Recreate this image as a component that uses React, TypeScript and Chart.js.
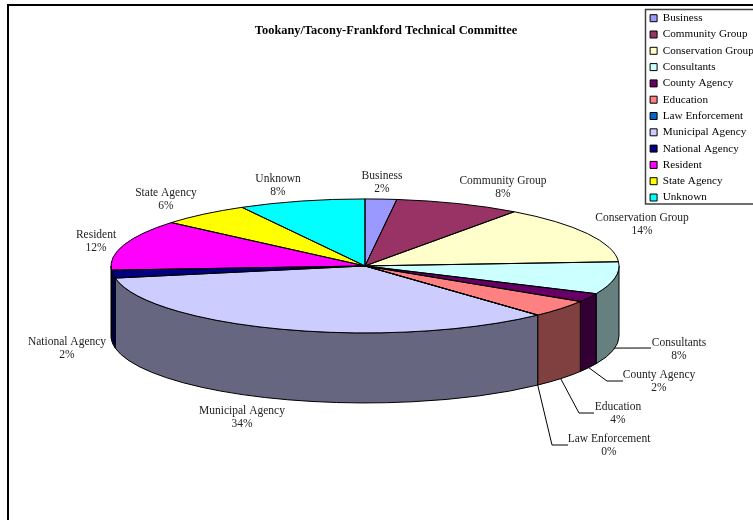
import React, { useEffect, useRef } from "react";
import { Chart, registerables } from "chart.js";

Chart.register(...registerables);

const titleText = "Tookany/Tacony-Frankford Technical Committee";
const categories = ["Business", "Community Group", "Conservation Group", "Consultants", "County Agency", "Education", "Law Enforcement", "Municipal Agency", "National Agency", "Resident", "State Agency", "Unknown"];
const shares = [2, 8, 14, 7.8, 2.1, 4.2, 0, 34, 1.9, 12.2, 5.75, 8.05];
const shareLabels = ["2%", "8%", "14%", "8%", "2%", "4%", "0%", "34%", "2%", "12%", "6%", "8%"];
const sliceColors = ["#9999FF", "#993366", "#FFFFCC", "#CCFFFF", "#660066", "#FF8080", "#0066CC", "#CCCCFF", "#000080", "#FF00FF", "#FFFF00", "#00FFFF"];
const wallColors = ["#4D4D80", "#4D1A33", "#808066", "#668080", "#330033", "#804040", "#003366", "#666680", "#000040", "#800080", "#808000", "#008080"];

const labelCenters: [number, number][] = [[382, 175], [503, 180], [642, 217], [679, 342], [659, 374], [618, 406], [609, 438], [242, 410], [67, 341], [96, 234], [166, 192], [278, 178]];
const leaderElbows: Record<number, [number, number][]> = {
  3: [[651, 348]],
  4: [[607, 381], [623, 381]],
  5: [[579, 413], [594, 413]],
  6: [[552, 445], [568, 445]],
};

const RADIUS = 254;
const TILT = 67 / 254;
const DEPTH = 70;
const SERIF = "'Liberation Serif', serif";

const tiltPlugin = {
  id: "tilt",
  afterLayout(chart: any) {
    const legend = chart.legend;
    legend.left = 645;
    legend.right = 753;
    legend.top = 7.5;
    legend.bottom = 260;
    legend.width = 108;
    legend.height = 252.5;
    const title = chart.titleBlock;
    title.left = 0;
    title.right = 772;
    title.width = 772;
  },
  beforeDraw(chart: any) {
    const { ctx } = chart;
    ctx.save();
    ctx.fillStyle = "#000";
    ctx.fillRect(7, 4, 746, 2);
    ctx.fillRect(7, 4, 2, 516);
    ctx.strokeStyle = "#404040";
    ctx.lineWidth = 1.5;
    ctx.fillStyle = "#fff";
    ctx.beginPath();
    ctx.rect(645.5, 9.5, 110, 194.5);
    ctx.fill();
    ctx.stroke();
    ctx.restore();
  },
  beforeDatasetsDraw(chart: any) {
    const { ctx } = chart;
    const arcs = chart.getDatasetMeta(0).data;
    const cx = arcs[0].x;
    const cy = arcs[0].y;
    const ry = RADIUS * TILT;
    ctx.save();
    ctx.lineWidth = 1;
    ctx.strokeStyle = "#000";
    arcs.forEach((arc: any, i: number) => {
      const a0 = Math.max(arc.startAngle, 0);
      const a1 = Math.min(arc.endAngle, Math.PI);
      if (a1 <= a0) return;
      ctx.beginPath();
      ctx.ellipse(cx, cy, RADIUS, ry, 0, a0, a1);
      ctx.lineTo(cx + RADIUS * Math.cos(a1), cy + ry * Math.sin(a1) + DEPTH);
      ctx.ellipse(cx, cy + DEPTH, RADIUS, ry, 0, a1, a0, true);
      ctx.closePath();
      ctx.fillStyle = wallColors[i];
      ctx.fill();
      ctx.stroke();
    });
    ctx.restore();
    ctx.save();
    ctx.translate(cx, cy);
    ctx.scale(1, TILT);
    ctx.translate(-cx, -cy);
  },
  afterDatasetsDraw(chart: any) {
    const { ctx } = chart;
    ctx.restore();
    const arcs = chart.getDatasetMeta(0).data;
    const cx = arcs[0].x;
    const cy = arcs[0].y;
    const ry = RADIUS * TILT;
    ctx.save();
    ctx.lineWidth = 1;
    ctx.strokeStyle = "#000";
    arcs.forEach((arc: any) => {
      ctx.beginPath();
      ctx.moveTo(cx, cy);
      ctx.ellipse(cx, cy, RADIUS, ry, 0, arc.startAngle, arc.endAngle);
      ctx.closePath();
      ctx.stroke();
    });
    // leader lines start on the wall's lower rim at the slice's mid angle
    Object.keys(leaderElbows).forEach((key) => {
      const i = Number(key);
      const mid = (arcs[i].startAngle + arcs[i].endAngle) / 2;
      ctx.beginPath();
      ctx.moveTo(cx + RADIUS * Math.cos(mid), cy + ry * Math.sin(mid) + DEPTH);
      leaderElbows[i].forEach(([x, y]) => ctx.lineTo(x, y));
      ctx.stroke();
    });
    ctx.fillStyle = "#222";
    ctx.font = `11.5px ${SERIF}`;
    ctx.textAlign = "center";
    ctx.textBaseline = "middle";
    categories.forEach((name, i) => {
      const [x, y] = labelCenters[i];
      ctx.fillText(name, x, y + 1);
      ctx.fillText(shareLabels[i], x, y + 14);
    });
    ctx.restore();
  },
};

export default function App() {
  const ref = useRef<HTMLCanvasElement>(null);
  useEffect(() => {
    const chart = new Chart(ref.current as HTMLCanvasElement, {
      type: "pie",
      data: {
        labels: categories,
        datasets: [
          {
            data: shares,
            backgroundColor: sliceColors,
            borderWidth: 0,
            clip: false as any,
          },
        ],
      },
      options: {
        responsive: false,
        animation: false,
        radius: RADIUS,
        layout: { padding: { left: 0, right: 23, top: 23, bottom: 26 } },
        plugins: {
          tooltip: { enabled: false },
          title: {
            display: true,
            text: titleText,
            color: "#000",
            position: "top",
            padding: 0,
            font: { family: SERIF, size: 12.4, weight: "bold" },
          },
          legend: {
            position: "chartArea" as any,
            align: "start",
            labels: {
              boxWidth: 7,
              boxHeight: 7,
              padding: 5.1,
              color: "#222",
              font: { family: SERIF, size: 11.2 },
              generateLabels: () =>
                categories.map((text, i) => ({
                  text,
                  index: i,
                  fillStyle: sliceColors[i],
                  strokeStyle: "#000",
                  lineWidth: 1,
                  hidden: false,
                })),
            },
          },
        },
      } as any,
      plugins: [tiltPlugin],
    });
    return () => chart.destroy();
  }, []);
  return <canvas ref={ref} width={753} height={520} style={{ position: "absolute", left: 0, top: 0 }} />;
}
